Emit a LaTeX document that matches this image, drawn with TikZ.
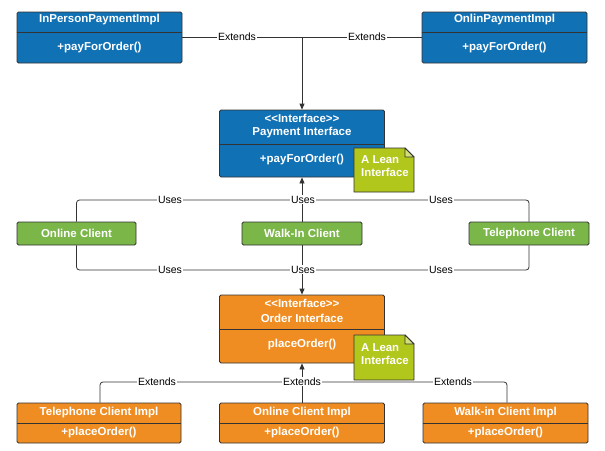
\documentclass[tikz,border=0pt]{standalone}
\usepackage{fontspec}
\setmainfont{Liberation Sans}
\usetikzlibrary{arrows.meta}
\definecolor{ublue}{HTML}{1071B5}
\definecolor{ugreen}{HTML}{7AB648}
\definecolor{uorange}{HTML}{EF8D22}
\definecolor{ulime}{HTML}{B2C71B}
\definecolor{ulimelt}{HTML}{D3E07A}
\definecolor{uedge}{HTML}{333333}
\tikzset{
  umlbox/.style={draw=uedge, line width=0.8pt, rounded corners=1.5pt, inner sep=0pt},
  bluebox/.style={umlbox, fill=ublue},
  greenbox/.style={umlbox, fill=ugreen, font=\fontsize{11.5}{13}\selectfont\bfseries, text=white},
  orangebox/.style={umlbox, fill=uorange},
  ttl/.style={inner sep=0pt, text=white, font=\fontsize{11.5}{13}\selectfont\bfseries},
  divider/.style={draw=uedge, line width=0.8pt},
  conn/.style={draw=uedge, line width=0.8pt, rounded corners=3pt},
  arr/.style={conn, -{Triangle[length=6pt,width=5pt]}},
  lbl/.style={fill=white, inner sep=0.6pt, text=black, font=\fontsize{10.5}{12}\selectfont},
  notepoly/.style={draw=uedge, line width=0.8pt, fill=ulime, line join=round},
  notetxt/.style={inner sep=0pt, text=white, align=left, anchor=north west, font=\fontsize{11.4}{13.4}\selectfont\bfseries}
}
\newcommand{\stereo}{<\kern0pt<Interface>\kern0pt>}
\begin{document}
\begin{tikzpicture}[x=1pt,y=-1pt]
\useasboundingbox[fill=white] (0,0) rectangle (605,450);

% ---------- top payment impl boxes ----------
\node[bluebox, minimum width=165pt, minimum height=51pt] (inperson) at (99.5,37.5) {};
\draw[divider] (inperson.west |- 0,32) -- (inperson.east |- 0,32);
\node[ttl] (inpersonT) at (99.5,20) {InPersonPaymentImpl};
\node[ttl] (inpersonM) at (99.5,47.5) {+payForOrder()};

\node[bluebox, minimum width=165pt, minimum height=51pt] (onlinpay) at (504.5,37.5) {};
\draw[divider] (onlinpay.west |- 0,32) -- (onlinpay.east |- 0,32);
\node[ttl] (onlinpayT) at (504.5,20) {OnlinPaymentImpl};
\node[ttl] (onlinpayM) at (504.5,47.5) {+payForOrder()};

% ---------- payment interface ----------
\node[bluebox, minimum width=165pt, minimum height=67pt] (payif) at (302,143.5) {};
\draw[divider] (payif.west |- 0,144) -- (payif.east |- 0,144);
\node[ttl] (payifS) at (302,118.5) {\stereo};
\node[ttl] (payifT) at (302,133) {Payment Interface};
\node[ttl] (payifM) at (302,160) {+payForOrder()};

% note 1
\coordinate (n1a) at (354,148);
\coordinate (n1b) at (414,192);
\draw[notepoly] (n1a) -- ([xshift=-9pt]n1a -| n1b) -- ([yshift=-9pt]n1a -| n1b) -- (n1b) -- (n1a |- n1b) -- cycle;
\draw[notepoly, fill=ulimelt] ([xshift=-9pt]n1a -| n1b) -- ([xshift=-9pt,yshift=-9pt]n1a -| n1b) -- ([yshift=-9pt]n1a -| n1b) -- cycle;
\node[notetxt] (note1) at (361,155.5) {A Lean\\Interface};

% ---------- clients ----------
\node[greenbox, minimum width=119pt, minimum height=23pt] (onlinecl) at (76.5,233.5) {Online Client};
\node[greenbox, minimum width=120pt, minimum height=23pt] (walkincl) at (302,233.5) {Walk-In Client};
\node[greenbox, minimum width=120pt, minimum height=23pt] (telecl) at (529,233.5) {Telephone Client};

% ---------- order interface ----------
\node[orangebox, minimum width=165pt, minimum height=68pt] (ordif) at (302,329) {};
\draw[divider] (ordif.west |- 0,329.5) -- (ordif.east |- 0,329.5);
\node[ttl] (ordifS) at (302,303.5) {\stereo};
\node[ttl] (ordifT) at (302,318) {Order Interface};
\node[ttl] (ordifM) at (302,345) {placeOrder()};

% note 2
\coordinate (n2a) at (354,335);
\coordinate (n2b) at (414,380);
\draw[notepoly] (n2a) -- ([xshift=-9pt]n2a -| n2b) -- ([yshift=-9pt]n2a -| n2b) -- (n2b) -- (n2a |- n2b) -- cycle;
\draw[notepoly, fill=ulimelt] ([xshift=-9pt]n2a -| n2b) -- ([xshift=-9pt,yshift=-9pt]n2a -| n2b) -- ([yshift=-9pt]n2a -| n2b) -- cycle;
\node[notetxt] (note2) at (361,343) {A Lean\\Interface};

% ---------- impl boxes ----------
\node[orangebox, minimum width=164pt, minimum height=40pt] (teleimpl) at (99,423) {};
\draw[divider] (teleimpl.west |- 0,423) -- (teleimpl.east |- 0,423);
\node[ttl] (teleimplT) at (99,412.5) {Telephone Client Impl};
\node[ttl] (teleimplM) at (99,433) {+placeOrder()};

\node[orangebox, minimum width=165pt, minimum height=40pt] (onlineimpl) at (302,423) {};
\draw[divider] (onlineimpl.west |- 0,423) -- (onlineimpl.east |- 0,423);
\node[ttl] (onlineimplT) at (302,412.5) {Online Client Impl};
\node[ttl] (onlineimplM) at (302,433) {+placeOrder()};

\node[orangebox, minimum width=165pt, minimum height=40pt] (walkimpl) at (505.5,423) {};
\draw[divider] (walkimpl.west |- 0,423) -- (walkimpl.east |- 0,423);
\node[ttl] (walkimplT) at (505.5,412.5) {Walk-in Client Impl};
\node[ttl] (walkimplM) at (505.5,433) {+placeOrder()};

% ---------- connectors ----------
% top Extends
\coordinate (ebus) at (302,37.5);
\draw[conn] (inperson.east |- ebus) -- (ebus);
\draw[conn] (onlinpay.west |- ebus) -- (ebus);
\draw[arr] (ebus) -- (payif.north);
\node[lbl] (lE1) at (237,37) {Extends};
\node[lbl] (lE2) at (367,37) {Extends};

% top Uses
\coordinate (ubus) at (302,200);
\draw[conn] (onlinecl.north) |- (ubus);
\draw[conn] (telecl.north) |- (ubus);
\draw[arr] (walkincl.north) -- (payif.south);
\node[lbl] (lU1) at (170,199.5) {Uses};
\node[lbl] (lU2) at (303,199.5) {Uses};
\node[lbl] (lU3) at (441,199.5) {Uses};

% bottom Uses
\coordinate (dbus) at (302,270);
\draw[conn] (onlinecl.south) |- (dbus);
\draw[conn] (telecl.south) |- (dbus);
\draw[arr] (walkincl.south) -- (ordif.north);
\node[lbl] (lD1) at (170,269.5) {Uses};
\node[lbl] (lD2) at (303,269.5) {Uses};
\node[lbl] (lD3) at (441,269.5) {Uses};

% bottom Extends
\coordinate (xbus) at (302,382);
\draw[conn] (teleimpl.north -| 100,0) |- (xbus);
\draw[conn] (walkimpl.north -| 507,0) |- (xbus);
\draw[arr] (onlineimpl.north) -- (ordif.south);
\node[lbl] (lX1) at (157,381.5) {Extends};
\node[lbl] (lX2) at (302,381.5) {Extends};
\node[lbl] (lX3) at (453,381.5) {Extends};
\end{tikzpicture}
\end{document}
